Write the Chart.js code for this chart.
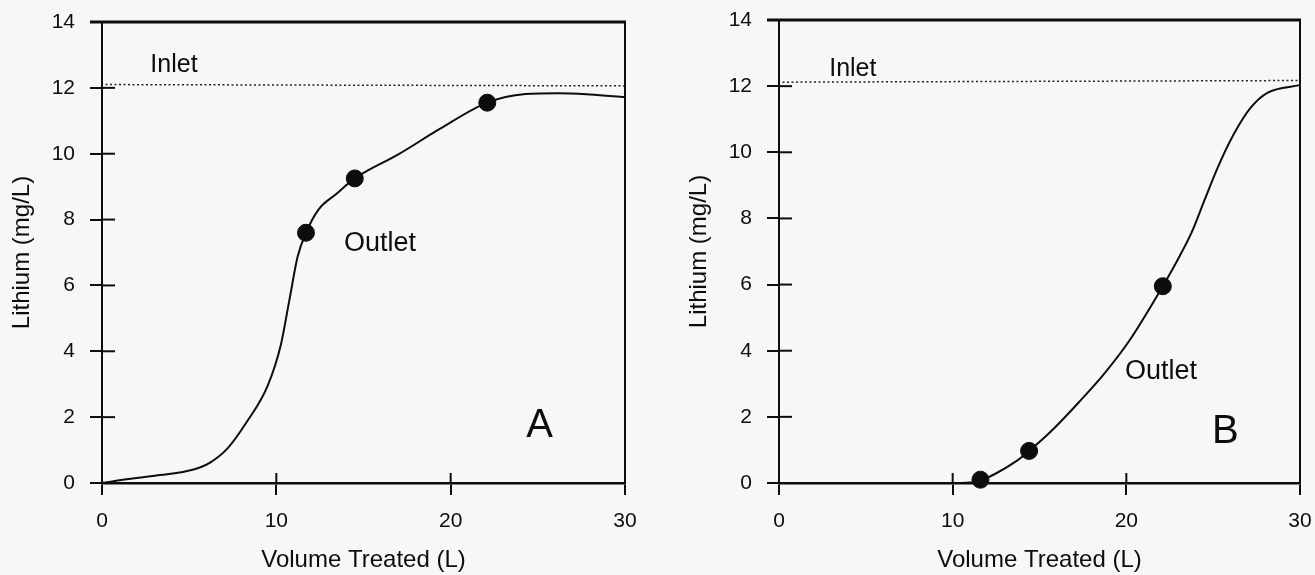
<!DOCTYPE html>
<html>
<head>
<meta charset="utf-8">
<title>Lithium breakthrough</title>
<script src="https://cdn.jsdelivr.net/npm/chart.js@4.4.1/dist/chart.umd.min.js"></script>
<style>
  html, body { margin: 0; padding: 0; background: #f6f7f6; }
  body { width: 1315px; height: 575px; position: relative; overflow: hidden; }
  canvas { position: absolute; top: 0; }
  #panelA { left: 0; }
  #panelB { left: 677px; }
</style>
</head>
<body>
<canvas id="panelA" width="657" height="575"></canvas>
<canvas id="panelB" width="638" height="575"></canvas>
<script>
// Column A: outlet lithium vs volume treated
const outletA_x = [0, 1.5, 3.3, 5.2, 6.2, 7.2, 8.3, 9.5, 10.26, 10.74, 11.22, 11.7, 12.43, 13.4, 14.5, 17.0, 19.4, 22.1, 24.3, 26.2, 28.0, 30];
const outletA_y = [0, 0.12, 0.24, 0.40, 0.62, 1.05, 1.85, 2.95, 4.2, 5.53, 6.87, 7.6, 8.31, 8.76, 9.25, 9.98, 10.76, 11.55, 11.81, 11.84, 11.8, 11.72];
const samplesA_x = [11.7, 14.5, 22.1];
const samplesA_y = [7.6, 9.25, 11.55];
const inletA_x = [0.2, 30];
const inletA_y = [12.1, 12.06];

// Column B
const outletB_x = [0, 10.5, 11.6, 12.46, 13.66, 14.4, 15.83, 17.28, 18.72, 20.17, 22.1, 23.06, 23.78, 24.5, 25.23, 26.19, 27.16, 28.12, 30];
const outletB_y = [0, 0, 0.08, 0.28, 0.66, 0.97, 1.65, 2.45, 3.3, 4.3, 5.95, 6.85, 7.6, 8.55, 9.5, 10.55, 11.35, 11.8, 12.03];
const samplesB_x = [11.6, 14.4, 22.1];
const samplesB_y = [0.1, 0.97, 5.95];
const inletB_x = [0.2, 30];
const inletB_y = [12.12, 12.17];

const xTicks = [0, 10, 20, 30];
const yTicks = [0, 2, 4, 6, 8, 10, 12, 14];

const INK = '#0d0d0d';
const FONT = "'Liberation Sans', Arial, Helvetica, sans-serif";

const pairs = (xs, ys) => xs.map((x, i) => ({ x, y: ys[i] }));

// box top/right edges, inner half of the tick marks, and the text notes
const framePlugin = {
  id: 'frame',
  afterDraw(chart, args, opts) {
    const { ctx, chartArea: a, scales: { x, y } } = chart;
    ctx.save();
    ctx.strokeStyle = INK;
    ctx.lineCap = 'butt';

    ctx.lineWidth = 3;
    ctx.beginPath();
    ctx.moveTo(a.left - 12, a.top);
    ctx.lineTo(a.right + 1, a.top);
    ctx.stroke();

    ctx.lineWidth = 2;
    ctx.beginPath();
    ctx.moveTo(a.right, a.top);
    ctx.lineTo(a.right, a.bottom);
    ctx.stroke();

    y.ticks.forEach(t => {
      const py = y.getPixelForValue(t.value);
      ctx.beginPath();
      ctx.moveTo(a.left, py);
      ctx.lineTo(a.left + 13, py);
      ctx.stroke();
    });
    x.ticks.forEach(t => {
      const px = x.getPixelForValue(t.value);
      ctx.beginPath();
      ctx.moveTo(px, a.bottom);
      ctx.lineTo(px, a.bottom - 10);
      ctx.stroke();
    });

    ctx.fillStyle = INK;
    ctx.textAlign = 'center';
    ctx.textBaseline = 'middle';
    (opts.notes || []).forEach(n => {
      ctx.font = n.size + 'px ' + FONT;
      ctx.fillText(n.text, x.getPixelForValue(n.x), y.getPixelForValue(n.y));
    });
    ctx.restore();
  }
};

function makePanel(id, pad, curveX, curveY, dotX, dotY, inX, inY, notes) {
  return new Chart(document.getElementById(id), {
    type: 'scatter',
    data: {
      datasets: [
        {
          label: 'Inlet',
          data: pairs(inX, inY),
          showLine: true,
          borderColor: '#222',
          borderWidth: 1.5,
          borderDash: [2, 2.5],
          pointRadius: 0,
          clip: false
        },
        {
          label: 'Outlet',
          data: pairs(curveX, curveY),
          showLine: true,
          borderColor: INK,
          borderWidth: 2,
          cubicInterpolationMode: 'monotone',
          pointRadius: 0,
          clip: false
        },
        {
          label: 'Samples',
          data: pairs(dotX, dotY),
          showLine: false,
          pointRadius: 8.5,
          pointBackgroundColor: INK,
          pointBorderColor: INK,
          clip: false
        }
      ]
    },
    options: {
      responsive: false,
      animation: false,
      layout: { padding: pad },
      plugins: {
        legend: { display: false },
        tooltip: { enabled: false },
        frame: { notes }
      },
      scales: {
        x: {
          type: 'linear',
          min: 0,
          max: 30,
          afterFit: s => { s.height = 92; s.paddingLeft = 0; s.paddingRight = 0; },
          afterBuildTicks: s => { s.ticks = xTicks.map(v => ({ value: v })); },
          grid: { drawOnChartArea: false, tickLength: 12, lineWidth: 2, color: INK },
          border: { display: true, width: 2.5, color: INK },
          ticks: { padding: 14, color: INK, font: { family: FONT, size: 21 } },
          title: {
            display: true,
            text: 'Volume Treated (L)',
            color: INK,
            font: { family: FONT, size: 24 },
            padding: { top: 0, bottom: 0 }
          }
        },
        y: {
          type: 'linear',
          min: 0,
          max: 14,
          afterFit: s => { s.width = 102; s.paddingTop = 0; s.paddingBottom = 0; },
          afterBuildTicks: s => { s.ticks = yTicks.map(v => ({ value: v })); },
          grid: { drawOnChartArea: false, tickLength: 12, lineWidth: 2, color: INK },
          border: { display: true, width: 2, color: INK },
          ticks: { padding: 15, color: INK, font: { family: FONT, size: 21 } },
          title: {
            display: true,
            text: 'Lithium (mg/L)',
            color: INK,
            font: { family: FONT, size: 24 },
            padding: { top: 8, bottom: 0 }
          }
        }
      }
    },
    plugins: [framePlugin]
  });
}

makePanel('panelA', { left: 0, right: 32, top: 22, bottom: 0 },
  outletA_x, outletA_y, samplesA_x, samplesA_y, inletA_x, inletA_y, [
    { text: 'Inlet', x: 4.13, y: 12.69, size: 25 },
    { text: 'Outlet', x: 15.95, y: 7.26, size: 27 },
    { text: 'A', x: 25.1, y: 1.73, size: 40 }
  ]);

makePanel('panelB', { left: 0, right: 15, top: 20, bottom: 0 },
  outletB_x, outletB_y, samplesB_x, samplesB_y, inletB_x, inletB_y, [
    { text: 'Inlet', x: 4.25, y: 12.52, size: 25 },
    { text: 'Outlet', x: 22.0, y: 3.36, size: 27 },
    { text: 'B', x: 25.7, y: 1.54, size: 40 }
  ]);
</script>
</body>
</html>
